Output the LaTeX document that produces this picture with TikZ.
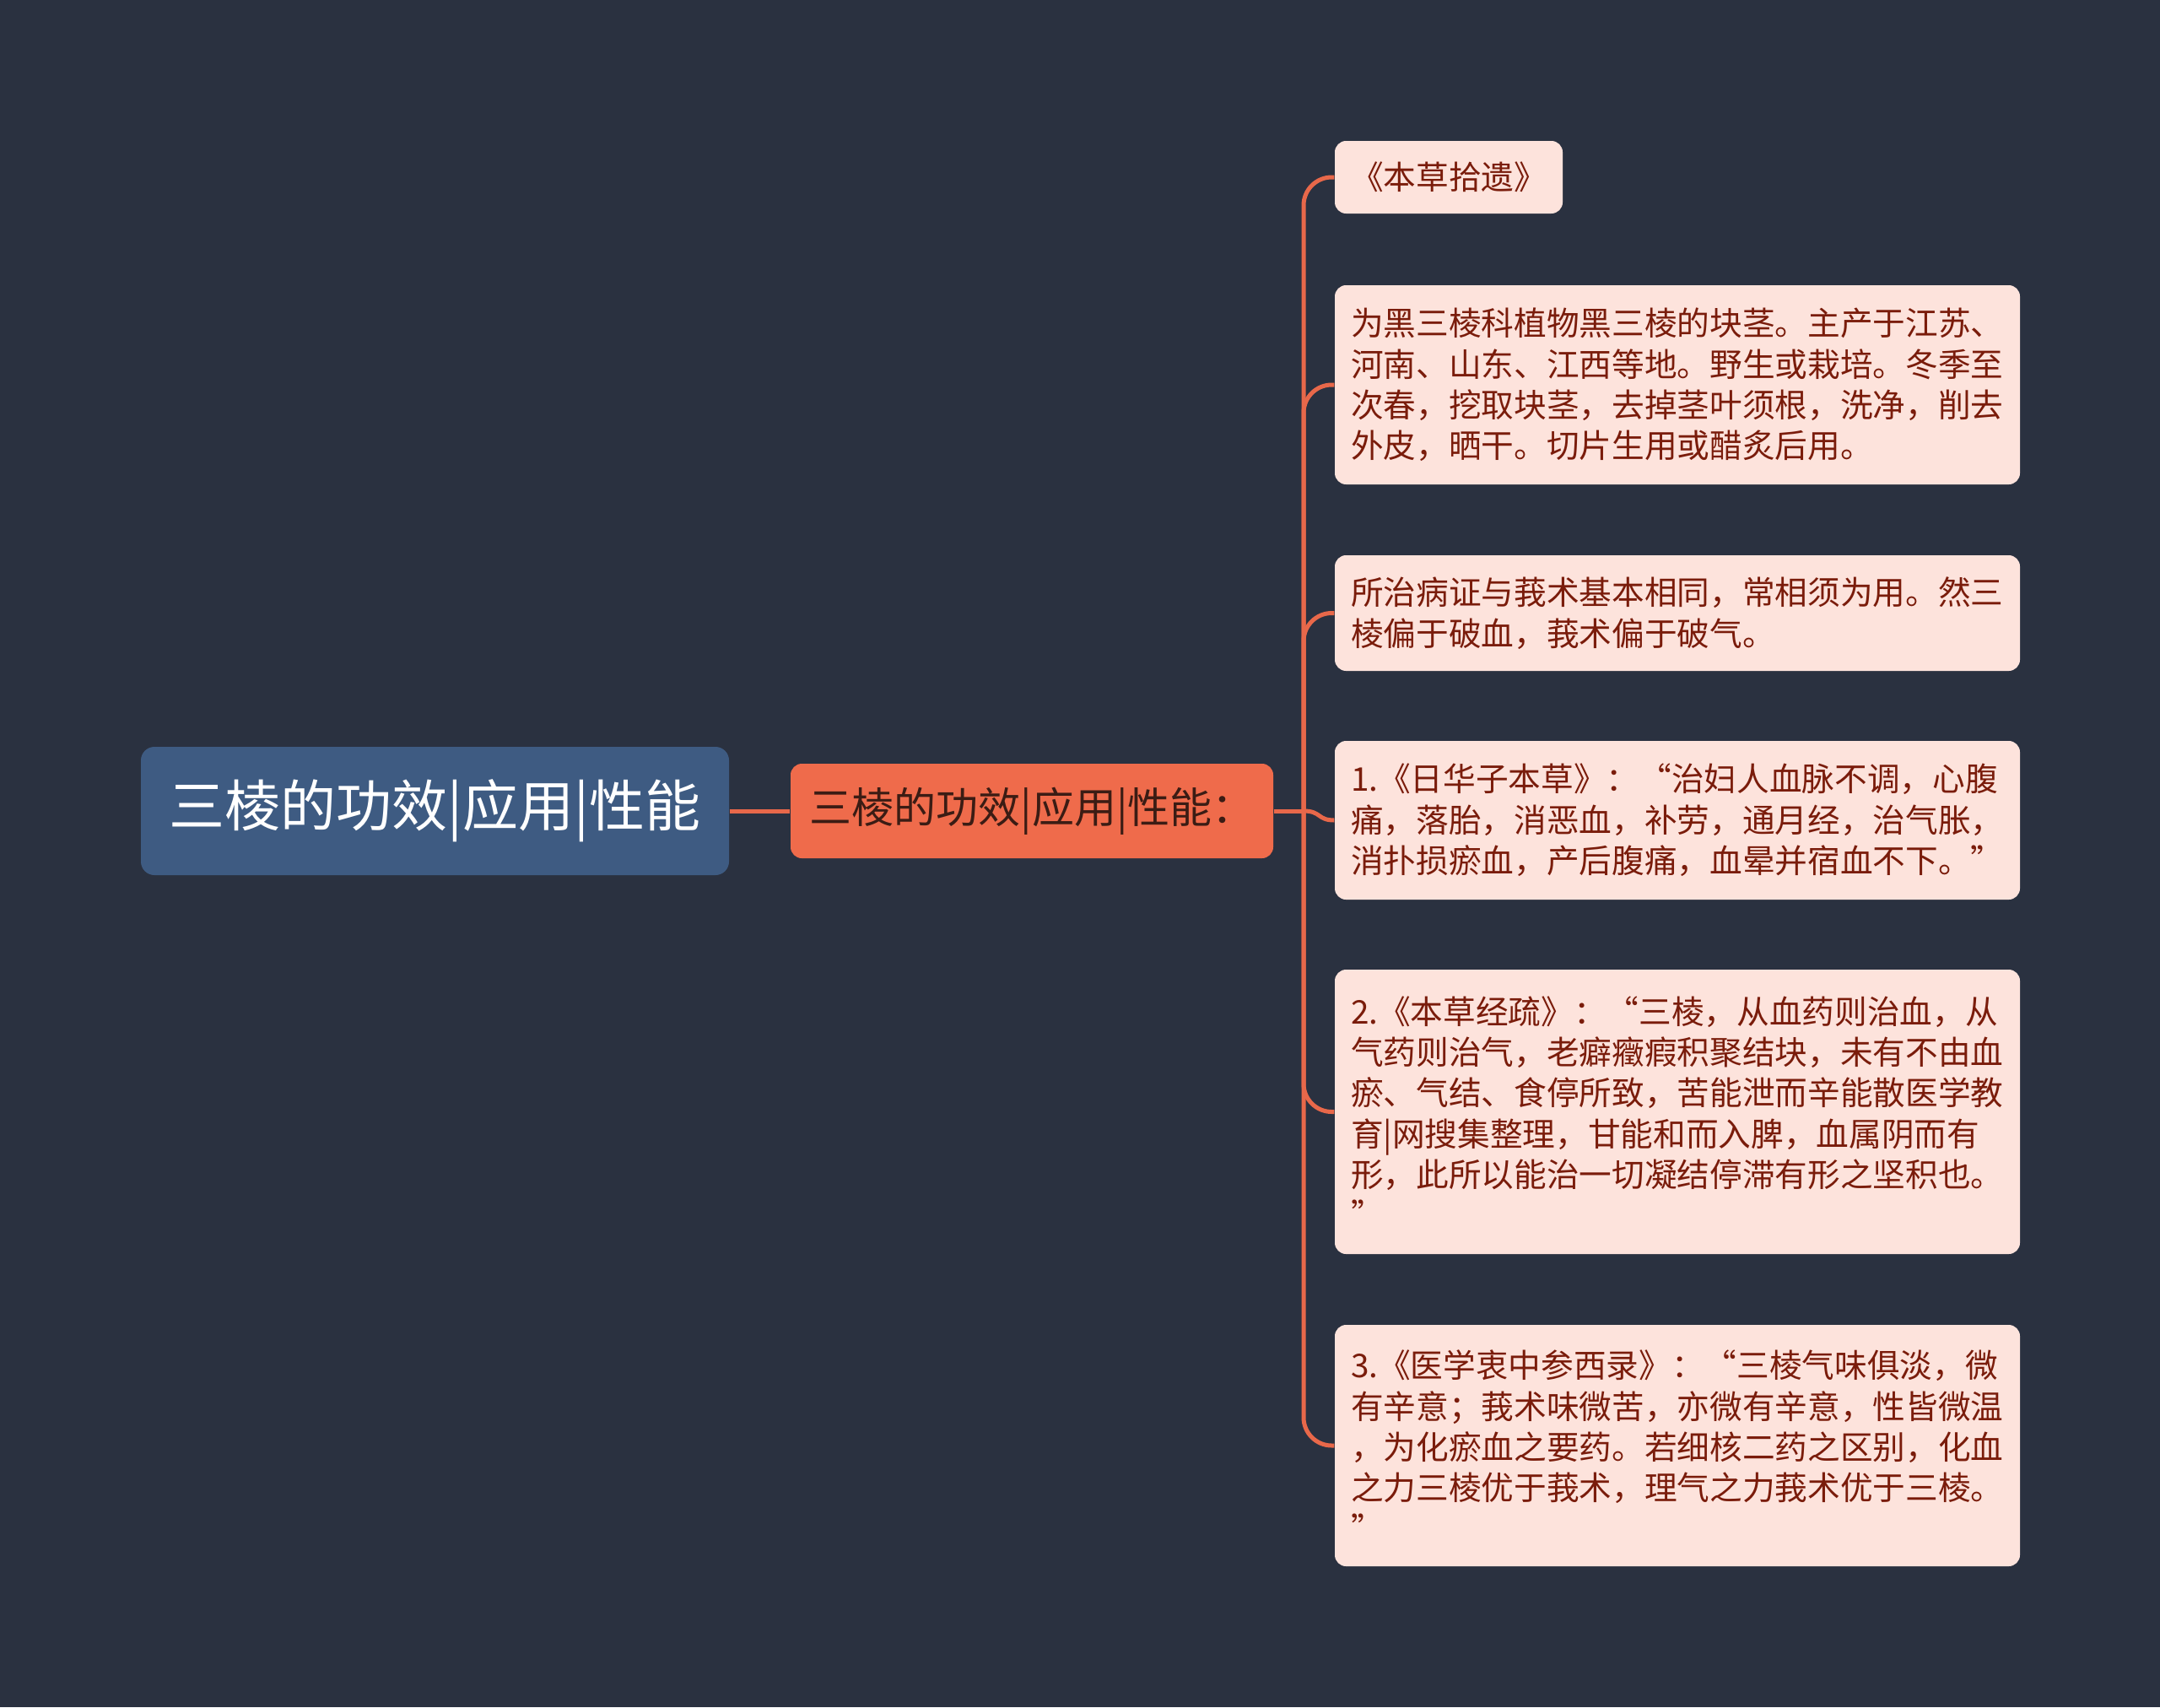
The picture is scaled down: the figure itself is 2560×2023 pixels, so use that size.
\documentclass[tikz,border=0pt]{standalone}
\usepackage{fontspec}
\setmainfont{Noto Sans CJK SC}
\definecolor{bg}{HTML}{2A3140}
\definecolor{rootc}{HTML}{3E5B82}
\definecolor{midc}{HTML}{EF6B4B}
\definecolor{leafc}{HTML}{FDE3DC}
\definecolor{leaft}{HTML}{7A1C0B}
\definecolor{midt}{HTML}{3B1C14}
\definecolor{linec}{HTML}{E8684A}
\begin{document}
\begin{tikzpicture}[x=0.3pt,y=-0.3pt]
\fill[bg] (0,0) rectangle (2560,2023);
\useasboundingbox (0,0) rectangle (2560,2023);
\tikzset{
 rootbox/.style={fill=rootc, rounded corners=4.8pt, minimum width=209.1pt, minimum height=45.6pt, inner sep=0pt, text=white, font=\fontsize{19.8pt}{24pt}\selectfont},
 midbox/.style={fill=midc, rounded corners=4pt, minimum width=171.6pt, minimum height=33.6pt, inner sep=0pt, text=midt, font=\fontsize{15pt}{18pt}\selectfont},
 leafbox/.style={fill=leafc, rounded corners=4pt, text=leaft, inner xsep=5.7pt, inner ysep=0pt, font=\fontsize{11.6pt}{14.5pt}\selectfont},
 wrapbox/.style={leafbox, text width=232.2pt, align=left, minimum width=243.6pt},
 conn/.style={draw=linec, line width=1.5pt},
}
\node[rootbox] (root) at (515.5,961) {三棱的功效|应用|性能};
\node[midbox] (mid) at (1223,961) {三棱的功效|应用|性能：};
\node[leafbox, minimum width=81pt, minimum height=25.8pt] (b1) at (1717,210) {《本草拾遗》};
\node[wrapbox, minimum height=70.8pt] (b2) at (1988,456) {为黑三棱科植物黑三棱的块茎。主产于江苏、\\河南、山东、江西等地。野生或栽培。冬季至\\次春，挖取块茎，去掉茎叶须根，洗净，削去\\外皮，晒干。切片生用或醋炙后用。};
\node[wrapbox, minimum height=41.1pt] (b3) at (1988,726.5) {所治病证与莪术基本相同，常相须为用。然三\\棱偏于破血，莪术偏于破气。};
\node[wrapbox, minimum height=56.4pt] (b4) at (1988,972) {1.《日华子本草》：“治妇人血脉不调，心腹\\痛，落胎，消恶血，补劳，通月经，治气胀，\\消扑损瘀血，产后腹痛，血晕并宿血不下。”};
\node[wrapbox, minimum height=101.1pt] (b5) at (1988,1317.5) {2.《本草经疏》：“三棱，从血药则治血，从\\气药则治气，老癖癥瘕积聚结块，未有不由血\\瘀、气结、食停所致，苦能泄而辛能散医学教\\育|网搜集整理，甘能和而入脾，血属阴而有\\形，此所以能治一切凝结停滞有形之坚积也。\\”};
\node[wrapbox, minimum height=85.8pt] (b6) at (1988,1713) {3.《医学衷中参西录》：“三棱气味俱淡，微\\有辛意；莪术味微苦，亦微有辛意，性皆微温\\，为化瘀血之要药。若细核二药之区别，化血\\之力三棱优于莪术，理气之力莪术优于三棱。\\”};
\coordinate (J) at (1545,961);
\draw[conn] (root.east) -- (mid.west);
\draw[conn] (mid.east) -- (J);
\draw[conn, rounded corners=10pt] (J) |- (b1.west);
\draw[conn, rounded corners=10pt] (J) |- (b2.west);
\draw[conn, rounded corners=10pt] (J) |- (b3.west);
\draw[conn] (J) .. controls (1566,961) and (1561,972) .. (b4.west);
\draw[conn, rounded corners=10pt] (J) |- (b5.west);
\draw[conn, rounded corners=10pt] (J) |- (b6.west);
\end{tikzpicture}
\end{document}
